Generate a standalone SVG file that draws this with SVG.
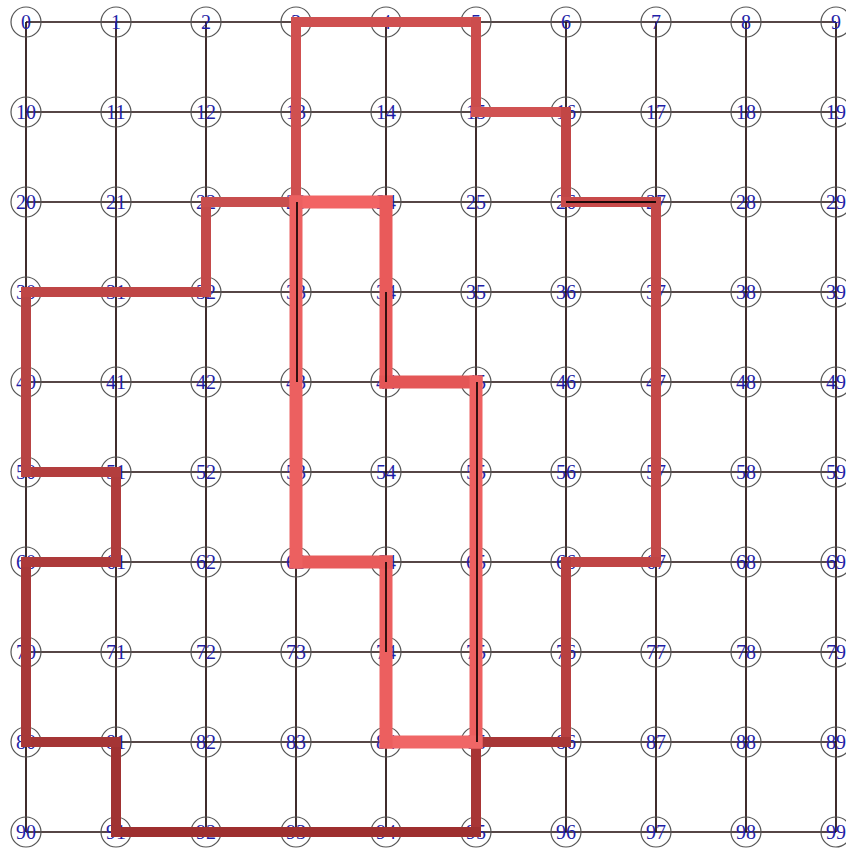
<svg xmlns="http://www.w3.org/2000/svg" width="846" height="852" viewBox="0 0 846 852">
<style>
.g line{stroke:#1e0808;stroke-width:1.7}
.n circle{fill:none;stroke:#555;stroke-width:1.2}
.n text{font-family:"Liberation Serif","Times New Roman",serif;font-size:20px;fill:#1f1fa8;text-anchor:middle}
.r line{stroke-width:10;stroke-linecap:square}
.p line{stroke-width:13;stroke-linecap:square}
.o line{stroke:#1e0808;stroke-width:1.8}
</style>
<rect width="846" height="852" fill="#fff"/>
<g id="connectors">
<g class="g">
<line x1="26" y1="22" x2="836" y2="22"/><line x1="26" y1="112" x2="836" y2="112"/><line x1="26" y1="202" x2="836" y2="202"/><line x1="26" y1="292" x2="836" y2="292"/><line x1="26" y1="382" x2="836" y2="382"/><line x1="26" y1="472" x2="836" y2="472"/><line x1="26" y1="562" x2="836" y2="562"/><line x1="26" y1="652" x2="836" y2="652"/><line x1="26" y1="742" x2="836" y2="742"/><line x1="26" y1="832" x2="836" y2="832"/>
<line x1="26" y1="22" x2="26" y2="832"/><line x1="116" y1="22" x2="116" y2="832"/><line x1="206" y1="22" x2="206" y2="832"/><line x1="296" y1="22" x2="296" y2="832"/><line x1="386" y1="22" x2="386" y2="832"/><line x1="476" y1="22" x2="476" y2="832"/><line x1="566" y1="22" x2="566" y2="832"/><line x1="656" y1="22" x2="656" y2="832"/><line x1="746" y1="22" x2="746" y2="832"/><line x1="836" y1="22" x2="836" y2="832"/>
</g>
</g>
<g id="nodes">
<g id="n0" class="n"><circle cx="26" cy="22" r="15"/><text x="26" y="29">0</text></g>
<g id="n1" class="n"><circle cx="116" cy="22" r="15"/><text x="116" y="29">1</text></g>
<g id="n2" class="n"><circle cx="206" cy="22" r="15"/><text x="206" y="29">2</text></g>
<g id="n3" class="n"><circle cx="296" cy="22" r="15"/><text x="296" y="29">3</text></g>
<g id="n4" class="n"><circle cx="386" cy="22" r="15"/><text x="386" y="29">4</text></g>
<g id="n5" class="n"><circle cx="476" cy="22" r="15"/><text x="476" y="29">5</text></g>
<g id="n6" class="n"><circle cx="566" cy="22" r="15"/><text x="566" y="29">6</text></g>
<g id="n7" class="n"><circle cx="656" cy="22" r="15"/><text x="656" y="29">7</text></g>
<g id="n8" class="n"><circle cx="746" cy="22" r="15"/><text x="746" y="29">8</text></g>
<g id="n9" class="n"><circle cx="836" cy="22" r="15"/><text x="836" y="29">9</text></g>
<g id="n10" class="n"><circle cx="26" cy="112" r="15"/><text x="26" y="119">10</text></g>
<g id="n11" class="n"><circle cx="116" cy="112" r="15"/><text x="116" y="119">11</text></g>
<g id="n12" class="n"><circle cx="206" cy="112" r="15"/><text x="206" y="119">12</text></g>
<g id="n13" class="n"><circle cx="296" cy="112" r="15"/><text x="296" y="119">13</text></g>
<g id="n14" class="n"><circle cx="386" cy="112" r="15"/><text x="386" y="119">14</text></g>
<g id="n15" class="n"><circle cx="476" cy="112" r="15"/><text x="476" y="119">15</text></g>
<g id="n16" class="n"><circle cx="566" cy="112" r="15"/><text x="566" y="119">16</text></g>
<g id="n17" class="n"><circle cx="656" cy="112" r="15"/><text x="656" y="119">17</text></g>
<g id="n18" class="n"><circle cx="746" cy="112" r="15"/><text x="746" y="119">18</text></g>
<g id="n19" class="n"><circle cx="836" cy="112" r="15"/><text x="836" y="119">19</text></g>
<g id="n20" class="n"><circle cx="26" cy="202" r="15"/><text x="26" y="209">20</text></g>
<g id="n21" class="n"><circle cx="116" cy="202" r="15"/><text x="116" y="209">21</text></g>
<g id="n22" class="n"><circle cx="206" cy="202" r="15"/><text x="206" y="209">22</text></g>
<g id="n23" class="n"><circle cx="296" cy="202" r="15"/><text x="296" y="209">23</text></g>
<g id="n24" class="n"><circle cx="386" cy="202" r="15"/><text x="386" y="209">24</text></g>
<g id="n25" class="n"><circle cx="476" cy="202" r="15"/><text x="476" y="209">25</text></g>
<g id="n26" class="n"><circle cx="566" cy="202" r="15"/><text x="566" y="209">26</text></g>
<g id="n27" class="n"><circle cx="656" cy="202" r="15"/><text x="656" y="209">27</text></g>
<g id="n28" class="n"><circle cx="746" cy="202" r="15"/><text x="746" y="209">28</text></g>
<g id="n29" class="n"><circle cx="836" cy="202" r="15"/><text x="836" y="209">29</text></g>
<g id="n30" class="n"><circle cx="26" cy="292" r="15"/><text x="26" y="299">30</text></g>
<g id="n31" class="n"><circle cx="116" cy="292" r="15"/><text x="116" y="299">31</text></g>
<g id="n32" class="n"><circle cx="206" cy="292" r="15"/><text x="206" y="299">32</text></g>
<g id="n33" class="n"><circle cx="296" cy="292" r="15"/><text x="296" y="299">33</text></g>
<g id="n34" class="n"><circle cx="386" cy="292" r="15"/><text x="386" y="299">34</text></g>
<g id="n35" class="n"><circle cx="476" cy="292" r="15"/><text x="476" y="299">35</text></g>
<g id="n36" class="n"><circle cx="566" cy="292" r="15"/><text x="566" y="299">36</text></g>
<g id="n37" class="n"><circle cx="656" cy="292" r="15"/><text x="656" y="299">37</text></g>
<g id="n38" class="n"><circle cx="746" cy="292" r="15"/><text x="746" y="299">38</text></g>
<g id="n39" class="n"><circle cx="836" cy="292" r="15"/><text x="836" y="299">39</text></g>
<g id="n40" class="n"><circle cx="26" cy="382" r="15"/><text x="26" y="389">40</text></g>
<g id="n41" class="n"><circle cx="116" cy="382" r="15"/><text x="116" y="389">41</text></g>
<g id="n42" class="n"><circle cx="206" cy="382" r="15"/><text x="206" y="389">42</text></g>
<g id="n43" class="n"><circle cx="296" cy="382" r="15"/><text x="296" y="389">43</text></g>
<g id="n44" class="n"><circle cx="386" cy="382" r="15"/><text x="386" y="389">44</text></g>
<g id="n45" class="n"><circle cx="476" cy="382" r="15"/><text x="476" y="389">45</text></g>
<g id="n46" class="n"><circle cx="566" cy="382" r="15"/><text x="566" y="389">46</text></g>
<g id="n47" class="n"><circle cx="656" cy="382" r="15"/><text x="656" y="389">47</text></g>
<g id="n48" class="n"><circle cx="746" cy="382" r="15"/><text x="746" y="389">48</text></g>
<g id="n49" class="n"><circle cx="836" cy="382" r="15"/><text x="836" y="389">49</text></g>
<g id="n50" class="n"><circle cx="26" cy="472" r="15"/><text x="26" y="479">50</text></g>
<g id="n51" class="n"><circle cx="116" cy="472" r="15"/><text x="116" y="479">51</text></g>
<g id="n52" class="n"><circle cx="206" cy="472" r="15"/><text x="206" y="479">52</text></g>
<g id="n53" class="n"><circle cx="296" cy="472" r="15"/><text x="296" y="479">53</text></g>
<g id="n54" class="n"><circle cx="386" cy="472" r="15"/><text x="386" y="479">54</text></g>
<g id="n55" class="n"><circle cx="476" cy="472" r="15"/><text x="476" y="479">55</text></g>
<g id="n56" class="n"><circle cx="566" cy="472" r="15"/><text x="566" y="479">56</text></g>
<g id="n57" class="n"><circle cx="656" cy="472" r="15"/><text x="656" y="479">57</text></g>
<g id="n58" class="n"><circle cx="746" cy="472" r="15"/><text x="746" y="479">58</text></g>
<g id="n59" class="n"><circle cx="836" cy="472" r="15"/><text x="836" y="479">59</text></g>
<g id="n60" class="n"><circle cx="26" cy="562" r="15"/><text x="26" y="569">60</text></g>
<g id="n61" class="n"><circle cx="116" cy="562" r="15"/><text x="116" y="569">61</text></g>
<g id="n62" class="n"><circle cx="206" cy="562" r="15"/><text x="206" y="569">62</text></g>
<g id="n63" class="n"><circle cx="296" cy="562" r="15"/><text x="296" y="569">63</text></g>
<g id="n64" class="n"><circle cx="386" cy="562" r="15"/><text x="386" y="569">64</text></g>
<g id="n65" class="n"><circle cx="476" cy="562" r="15"/><text x="476" y="569">65</text></g>
<g id="n66" class="n"><circle cx="566" cy="562" r="15"/><text x="566" y="569">66</text></g>
<g id="n67" class="n"><circle cx="656" cy="562" r="15"/><text x="656" y="569">67</text></g>
<g id="n68" class="n"><circle cx="746" cy="562" r="15"/><text x="746" y="569">68</text></g>
<g id="n69" class="n"><circle cx="836" cy="562" r="15"/><text x="836" y="569">69</text></g>
<g id="n70" class="n"><circle cx="26" cy="652" r="15"/><text x="26" y="659">70</text></g>
<g id="n71" class="n"><circle cx="116" cy="652" r="15"/><text x="116" y="659">71</text></g>
<g id="n72" class="n"><circle cx="206" cy="652" r="15"/><text x="206" y="659">72</text></g>
<g id="n73" class="n"><circle cx="296" cy="652" r="15"/><text x="296" y="659">73</text></g>
<g id="n74" class="n"><circle cx="386" cy="652" r="15"/><text x="386" y="659">74</text></g>
<g id="n75" class="n"><circle cx="476" cy="652" r="15"/><text x="476" y="659">75</text></g>
<g id="n76" class="n"><circle cx="566" cy="652" r="15"/><text x="566" y="659">76</text></g>
<g id="n77" class="n"><circle cx="656" cy="652" r="15"/><text x="656" y="659">77</text></g>
<g id="n78" class="n"><circle cx="746" cy="652" r="15"/><text x="746" y="659">78</text></g>
<g id="n79" class="n"><circle cx="836" cy="652" r="15"/><text x="836" y="659">79</text></g>
<g id="n80" class="n"><circle cx="26" cy="742" r="15"/><text x="26" y="749">80</text></g>
<g id="n81" class="n"><circle cx="116" cy="742" r="15"/><text x="116" y="749">81</text></g>
<g id="n82" class="n"><circle cx="206" cy="742" r="15"/><text x="206" y="749">82</text></g>
<g id="n83" class="n"><circle cx="296" cy="742" r="15"/><text x="296" y="749">83</text></g>
<g id="n84" class="n"><circle cx="386" cy="742" r="15"/><text x="386" y="749">84</text></g>
<g id="n85" class="n"><circle cx="476" cy="742" r="15"/><text x="476" y="749">85</text></g>
<g id="n86" class="n"><circle cx="566" cy="742" r="15"/><text x="566" y="749">86</text></g>
<g id="n87" class="n"><circle cx="656" cy="742" r="15"/><text x="656" y="749">87</text></g>
<g id="n88" class="n"><circle cx="746" cy="742" r="15"/><text x="746" y="749">88</text></g>
<g id="n89" class="n"><circle cx="836" cy="742" r="15"/><text x="836" y="749">89</text></g>
<g id="n90" class="n"><circle cx="26" cy="832" r="15"/><text x="26" y="839">90</text></g>
<g id="n91" class="n"><circle cx="116" cy="832" r="15"/><text x="116" y="839">91</text></g>
<g id="n92" class="n"><circle cx="206" cy="832" r="15"/><text x="206" y="839">92</text></g>
<g id="n93" class="n"><circle cx="296" cy="832" r="15"/><text x="296" y="839">93</text></g>
<g id="n94" class="n"><circle cx="386" cy="832" r="15"/><text x="386" y="839">94</text></g>
<g id="n95" class="n"><circle cx="476" cy="832" r="15"/><text x="476" y="839">95</text></g>
<g id="n96" class="n"><circle cx="566" cy="832" r="15"/><text x="566" y="839">96</text></g>
<g id="n97" class="n"><circle cx="656" cy="832" r="15"/><text x="656" y="839">97</text></g>
<g id="n98" class="n"><circle cx="746" cy="832" r="15"/><text x="746" y="839">98</text></g>
<g id="n99" class="n"><circle cx="836" cy="832" r="15"/><text x="836" y="839">99</text></g>
</g>
<g id="paths">
<g class="r">
<line x1="296" y1="22" x2="476" y2="22" stroke="#cf5050"/>
<line x1="476" y1="22" x2="476" y2="112" stroke="#cc4d4d"/>
<line x1="476" y1="112" x2="566" y2="112" stroke="#d05252"/>
<line x1="566" y1="112" x2="566" y2="202" stroke="#c24646"/>
<line x1="566" y1="202" x2="656" y2="202" stroke="#c84a4a"/>
<line x1="656" y1="202" x2="656" y2="562" stroke="#c44848"/>
<line x1="656" y1="562" x2="566" y2="562" stroke="#c04545"/>
<line x1="566" y1="562" x2="566" y2="742" stroke="#b84040"/>
<line x1="566" y1="742" x2="476" y2="742" stroke="#a83636"/>
<line x1="476" y1="742" x2="476" y2="832" stroke="#a83535"/>
<line x1="476" y1="832" x2="116" y2="832" stroke="#9e2f2f"/>
<line x1="116" y1="832" x2="116" y2="742" stroke="#a03232"/>
<line x1="116" y1="742" x2="26" y2="742" stroke="#a53535"/>
<line x1="26" y1="742" x2="26" y2="562" stroke="#a83838"/>
<line x1="26" y1="562" x2="116" y2="562" stroke="#ad3a3a"/>
<line x1="116" y1="562" x2="116" y2="472" stroke="#b03c3c"/>
<line x1="116" y1="472" x2="26" y2="472" stroke="#b33e3e"/>
<line x1="26" y1="472" x2="26" y2="292" stroke="#b84444"/>
<line x1="26" y1="292" x2="206" y2="292" stroke="#bf4646"/>
<line x1="206" y1="292" x2="206" y2="202" stroke="#c44a4a"/>
<line x1="206" y1="202" x2="296" y2="202" stroke="#c84e4e"/>
<line x1="296" y1="202" x2="296" y2="22" stroke="#d05050"/>
</g>
<g class="p">
<line x1="296" y1="202" x2="386" y2="202" stroke="#f26464"/>
<line x1="386" y1="202" x2="386" y2="382" stroke="#e95a5a"/>
<line x1="386" y1="382" x2="476" y2="382" stroke="#e45656"/>
<line x1="476" y1="382" x2="476" y2="742" stroke="#ee6060"/>
<line x1="476" y1="742" x2="386" y2="742" stroke="#f06666"/>
<line x1="386" y1="742" x2="386" y2="562" stroke="#ec5f5f"/>
<line x1="386" y1="562" x2="296" y2="562" stroke="#e85b5b"/>
<line x1="296" y1="562" x2="296" y2="202" stroke="#ec6060"/>
</g>
<g class="o">
<line x1="297" y1="202" x2="297" y2="382"/>
<line x1="386" y1="292" x2="386" y2="382"/>
<line x1="386" y1="562" x2="386" y2="652"/>
<line x1="477" y1="382" x2="477" y2="742"/>
<line x1="566" y1="202" x2="656" y2="202"/>
</g>
</g>
</svg>
